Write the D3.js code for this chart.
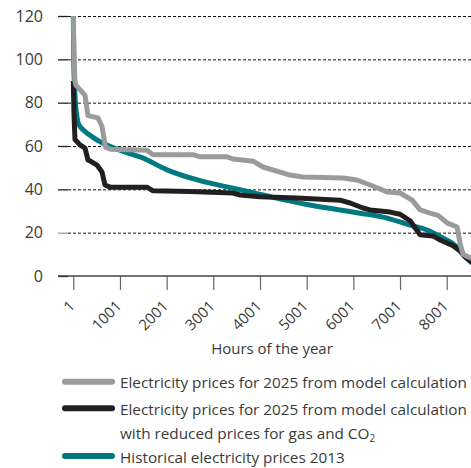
<!DOCTYPE html>
<html>
<head>
<meta charset="utf-8">
<script src="https://cdn.jsdelivr.net/npm/d3@7"></script>
<style>
  body { margin: 0; background: #fff; }
  svg { display: block; font-family: "Open Sans", sans-serif; }
</style>
</head>
<body>
<div id="chart"></div>
<script>
(function () {
    // Data (hour of year, EUR/MWh)
    const yTicks = [0, 20, 40, 60, 80, 100, 120];
    const xTicks = [1, 1001, 2001, 3001, 4001, 5001, 6001, 7001, 8001];

    const model2025 = [
        [1, 120], [20, 100], [35, 90], [60, 88], [145, 86], [250, 83.5], [316, 74], [530, 73],
        [616, 69], [690, 59.5], [800, 58.5], [1580, 58], [1709, 56], [2566, 56], [2716, 55],
        [3295, 55], [3423, 54], [3852, 53], [4066, 50.3], [4645, 46.6], [4923, 45.7], [5780, 45.2],
        [6080, 44.3], [6360, 42], [6724, 38.8], [7002, 38.3], [7260, 35], [7431, 30.5], [7645, 29],
        [7817, 28], [8010, 24.5], [8224, 22.6], [8288, 15], [8352, 10], [8460, 8.8], [8524, 8.3],
        [8760, 6]
    ];
    const model2025Reduced = [
        [1, 90], [15, 75], [37, 63], [145, 60.5], [252, 59], [316, 53.5], [402, 52.6], [509, 51.2],
        [616, 48], [680, 42], [787, 41], [1580, 41], [1709, 39.3], [2500, 39], [3423, 38.3],
        [3573, 37.4], [4000, 36.6], [4794, 36], [5715, 35], [5930, 33.7], [6208, 31.4], [6360, 30.5],
        [6788, 29.5], [7002, 28.5], [7217, 25.5], [7431, 19], [7710, 18.5], [7860, 16.6], [8138, 14],
        [8288, 11.5], [8395, 8.8], [8524, 6.5], [8760, 4]
    ];
    const historical2013 = [
        [1, 120], [10, 100], [40, 82], [101, 71], [145, 69], [209, 67.5], [423, 64], [573, 62],
        [723, 60.5], [1280, 56], [1430, 55], [2009, 49], [2716, 44], [3423, 40.5], [3788, 38.8],
        [4280, 36.3], [5009, 33], [5715, 30.5], [6144, 29], [6638, 27.2], [7217, 23.5], [7581, 21.2],
        [7924, 17.5], [8224, 13.4], [8395, 9], [8524, 6.5], [8760, 2]
    ];

    const seriesNames = [
        ["Electricity prices for 2025 from model calculation"],
        ["Electricity prices for 2025 from model calculation", "with reduced prices for gas and CO"],
        ["Historical electricity prices 2013"]
    ];
    const seriesColors = ["#9a9b9d", "#231f20", "#007a80"];

    const W = 471, H = 468;
    const svg = d3.select("#chart").append("svg")
        .attr("width", W)
        .attr("height", H);

    const x = d3.scaleLinear().domain([1, 8001]).range([73.3, 446.7]);
    const y = d3.scaleLinear().domain([0, 120]).range([276, 16]);
    const textColor = "#3a3a3a";

    // dashed grid lines
    const grid = svg.append("g")
        .attr("transform", "translate(68,0)")
        .call(d3.axisRight(y).tickValues(yTicks.filter(d => d > 0)).tickSize(W - 68).tickFormat(""));
    grid.select(".domain").remove();
    grid.selectAll("line")
        .attr("stroke", "#111")
        .attr("stroke-dasharray", "3,2");

    // y axis: short solid ticks + labels
    const yAxis = svg.append("g")
        .attr("transform", "translate(68,0)")
        .call(d3.axisLeft(y).tickValues(yTicks).tickSize(10).tickPadding(15));
    yAxis.select(".domain").remove();
    yAxis.selectAll("line")
        .attr("stroke", d => d === 20 ? "#9a9b9d" : "#222")
        .attr("stroke-width", 1.3);
    yAxis.selectAll("text")
        .attr("fill", textColor)
        .style("font-size", "16px")
        .style("font-family", "'Open Sans', sans-serif");

    // x axis
    const xAxis = svg.append("g")
        .attr("transform", "translate(0,276)")
        .call(d3.axisBottom(x).tickValues(xTicks).tickSize(14).tickFormat(d3.format("d")));
    xAxis.select(".domain").remove();
    xAxis.selectAll("line").attr("stroke", "#666").attr("stroke-width", 1.2);
    xAxis.selectAll("text")
        .attr("fill", textColor)
        .style("font-size", "15px")
        .style("font-family", "'Open Sans', sans-serif")
        .attr("text-anchor", "end")
        .attr("y", 0)
        .attr("dy", 0)
        .attr("transform", "translate(2,31) rotate(-45)");

    svg.append("line")
        .attr("x1", 58).attr("x2", W)
        .attr("y1", y(0)).attr("y2", y(0))
        .attr("stroke", "#444")
        .attr("stroke-width", 1.3);

    svg.append("text")
        .attr("x", 272)
        .attr("y", 354)
        .attr("text-anchor", "middle")
        .attr("fill", textColor)
        .style("font-size", "15px")
        .text("Hours of the year");

    // lines
    const line = d3.line().x(d => x(d[0])).y(d => y(d[1]));
    const smooth = d3.line().x(d => x(d[0])).y(d => y(d[1])).curve(d3.curveMonotoneX);

    svg.append("path").datum(historical2013)
        .attr("d", smooth).attr("fill", "none")
        .attr("stroke", seriesColors[2]).attr("stroke-width", 5)
        .attr("stroke-linejoin", "round");
    svg.append("path").datum(model2025Reduced)
        .attr("d", line).attr("fill", "none")
        .attr("stroke", seriesColors[1]).attr("stroke-width", 5)
        .attr("stroke-linejoin", "round");
    svg.append("path").datum(model2025)
        .attr("d", line).attr("fill", "none")
        .attr("stroke", seriesColors[0]).attr("stroke-width", 5)
        .attr("stroke-linejoin", "round");

    // legend
    const legendY = [381.7, 408.3, 456];
    const legend = svg.append("g");
    seriesNames.forEach((lines, i) => {
        legend.append("line")
            .attr("x1", 65).attr("x2", 112)
            .attr("y1", legendY[i]).attr("y2", legendY[i])
            .attr("stroke", seriesColors[i])
            .attr("stroke-width", 6)
            .attr("stroke-linecap", "round");
        const t = legend.append("text")
            .attr("x", 120)
            .attr("y", legendY[i] + 6.5)
            .attr("fill", textColor)
            .style("font-size", "15.3px");
        lines.forEach((s, j) => {
            t.append("tspan")
                .attr("x", 120)
                .attr("dy", j === 0 ? 0 : 24)
                .text(s);
            if (i === 1 && j === 1) {
                t.append("tspan")
                    .attr("dy", 3)
                    .style("font-size", "10px")
                    .text("2");
            }
        });
    });
})();
</script>
</body>
</html>
